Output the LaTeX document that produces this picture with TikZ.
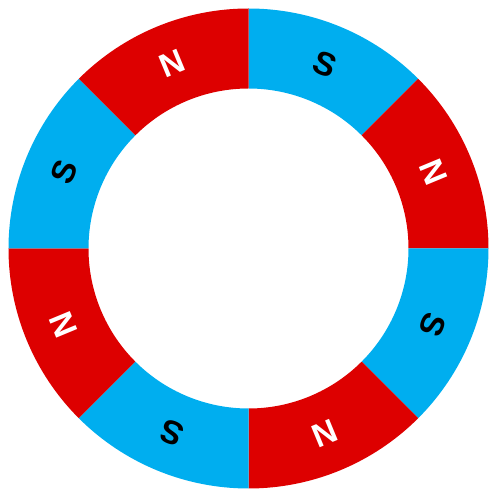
\documentclass[tikz,border=0pt]{standalone}
\usepackage{fontspec}
\setmainfont{Liberation Sans}
\definecolor{magred}{HTML}{DD0000}
\definecolor{magblue}{HTML}{00AEEF}
\begin{document}
\begin{tikzpicture}[x=1pt,y=1pt,
  pole/.style={font=\fontsize{33}{33}\selectfont\bfseries, inner sep=0pt}]
\useasboundingbox (-248.5,-240.5) rectangle (241.5,248.5);
\foreach \a/\c/\t/\tc [count=\i] in {90/magblue/S/black, 45/magred/N/white, 0/magblue/S/black, -45/magred/N/white, -90/magblue/S/black, -135/magred/N/white, -180/magblue/S/black, -225/magred/N/white} {
  \fill[\c] (\a:240) arc[start angle=\a, end angle=\a-45, radius=240]
    -- (\a-45:160) arc[start angle=\a-45, end angle=\a, radius=160] -- cycle;
  \node[pole, text=\tc, rotate=\a-22.5-90] (p\i) at (\a-22.5:200) {\t};
}
\end{tikzpicture}
\end{document}
